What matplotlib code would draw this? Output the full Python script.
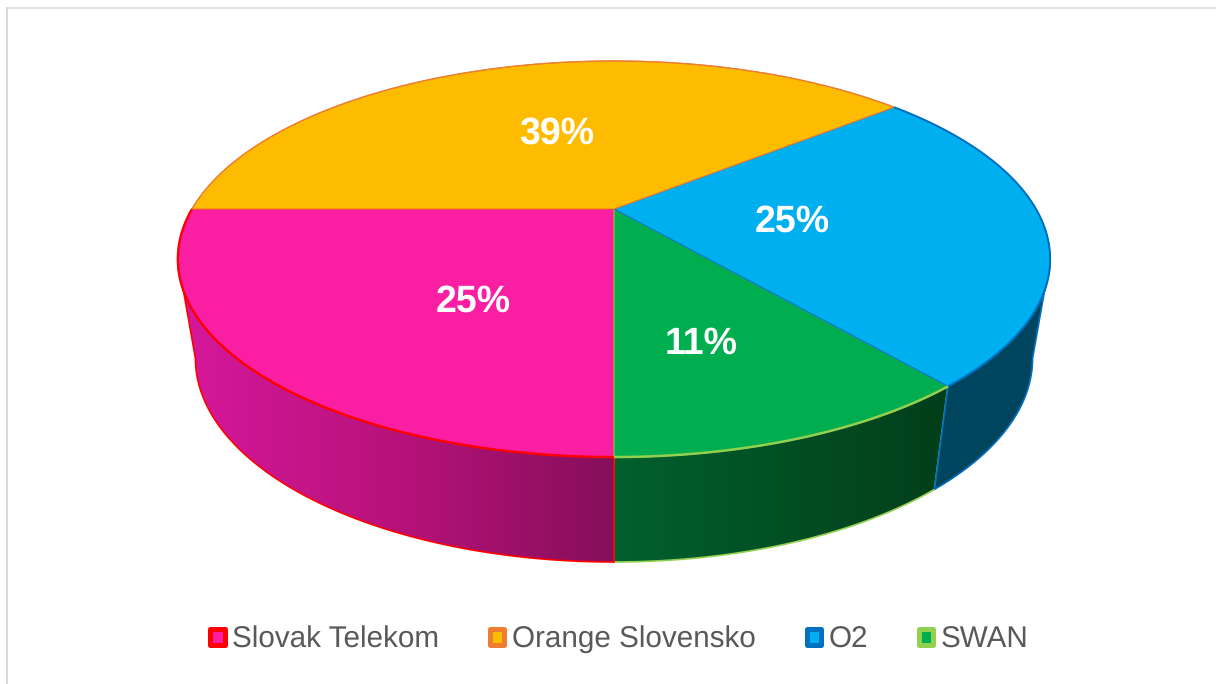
#!/usr/bin/env python3
# -*- coding: utf-8 -*-

import numpy as np
import matplotlib
matplotlib.use('Agg')
import matplotlib.pyplot as plt
from matplotlib.colors import LinearSegmentedColormap
from matplotlib.patches import Patch, Polygon
from matplotlib.transforms import Transform

plt.rcParams['font.family'] = ['Liberation Sans', 'DejaVu Sans']
plt.rcParams['text.hinting'] = 'none'

# chart data
operators = ['Slovak Telekom', 'Orange Slovensko', 'O2', 'SWAN']
shares = [25, 39, 25, 11]
share_labels = ['25%', '39%', '25%', '11%']

# styles
face_colors = ['#FA1EA2', '#FDBC00', '#00AFEF', '#00AE4F']
edge_colors = ['#FF0000', '#ED7D31', '#0070C0', '#92D050']
wall_colors = [['#D6189C', '#B8127A', '#850F5B'], None,
               ['#00465F', '#00445D'], ['#01602E', '#033E1B']]
rim_widths = [1.7, 0.9, 1.4, 1.8]
label_pos = [(473, 302), (557, 134), (792, 222), (701, 344)]

# perspective of the pie, the disc is a unit circle seen from above
PERSP = 0.2525
TOP = dict(cx=614, cy=209, a=422, b=185.4)
BOTTOM = dict(cx=614, cy=307, a=405, b=190.6)


def project(x, y, cx, cy, a, b):
    w = 1 + PERSP * y
    return cx + a * x / w, cy - b * y / w


class DiscProjection(Transform):
    input_dims = 2
    output_dims = 2

    def transform_non_affine(self, values):
        values = np.asarray(values)
        px, py = project(values[:, 0], values[:, 1], **TOP)
        return np.column_stack([px, py])


def rim(frac, params):
    # frac runs clockwise from the 6 o'clock position
    phi = 2 * np.pi * frac
    return project(-np.sin(phi), -np.cos(phi), **params)


fig = plt.figure(figsize=(12.17, 6.84), dpi=100)
ax = fig.add_axes([0, 0, 1, 1])

fracs = np.cumsum([0] + shares) / np.sum(shares)
visible = np.arccos(PERSP) / (2 * np.pi)

# side walls, only the part facing the viewer
# green first, so the red and blue seams stay on top of it
for rank, i in enumerate([3, 0, 2]):
    start, end = fracs[i], fracs[i + 1]
    if start < 0.5:
        end = min(end, visible)
    else:
        start = max(start, 1 - visible)
    f = np.linspace(start, end, 80)
    tx, ty = rim(f, TOP)
    bx, by = rim(f, BOTTOM)
    pts = np.column_stack([np.r_[tx, bx[::-1]], np.r_[ty, by[::-1]]])
    outline = Polygon(pts, closed=True, facecolor='none', edgecolor=edge_colors[i],
                      linewidth=1.2, zorder=2.5 + rank)
    ax.add_patch(outline)
    cmap = LinearSegmentedColormap.from_list('wall%d' % i, wall_colors[i])
    grad = np.linspace(0, 1, 128).reshape(1, -1)
    im = ax.imshow(grad, cmap=cmap, aspect='auto', interpolation='bilinear',
                   extent=(pts[:, 0].min(), pts[:, 0].max(), pts[:, 1].max(), pts[:, 1].min()),
                   zorder=2 + rank)
    im.set_clip_path(outline)

# top of the disc, draw order decides which colour the seams get
wedges, _ = ax.pie(shares, colors=face_colors, startangle=270, counterclock=False)
proj = DiscProjection() + ax.transData
for rank, i in enumerate([0, 3, 2, 1]):
    wedges[i].set_transform(proj)
    wedges[i].set_clip_on(False)
    wedges[i].set_edgecolor(edge_colors[i])
    wedges[i].set_linewidth(0.8)
    wedges[i].set_zorder(10 + rank)

# thicker coloured rim along the outer edge of each slice
for i in range(len(shares)):
    rx, ry = rim(np.linspace(fracs[i], fracs[i + 1], 120), TOP)
    ax.plot(rx, ry, color=edge_colors[i], linewidth=rim_widths[i], zorder=15,
            solid_capstyle='butt')

for label, (lx, ly) in zip(share_labels, label_pos):
    ax.text(lx, ly, label, color='white', fontsize=27, fontweight='bold',
            ha='center', va='center', zorder=20)

# legend
handles = [Patch(facecolor=fc, edgecolor=ec, linewidth=3.6)
           for fc, ec in zip(face_colors, edge_colors)]
leg = ax.legend(handles, operators, loc='center', bbox_to_anchor=(619.5, 639.5),
                bbox_transform=ax.transData, ncol=4, frameon=False, fontsize=21.3,
                labelcolor='#595959', handlelength=0.48, handleheight=0.48,
                handletextpad=0.26, columnspacing=1.72, borderpad=0, borderaxespad=0)
for h in leg.legend_handles:
    h.set_joinstyle('round')

# chart area border, the bottom is cut off in the screenshot
ax.vlines(6.5, 7, 684, color='#D9D9D9', linewidth=1.5)
ax.hlines(7.5, 6, 1216, color='#D9D9D9', linewidth=1.1)
ax.vlines(1216.5, 7, 684, color='#EEEEEE', linewidth=0.8)

ax.set_aspect('auto')
ax.set_xlim(0, 1217)
ax.set_ylim(684, 0)
ax.axis('off')

fig.savefig('out.png', dpi=100)
